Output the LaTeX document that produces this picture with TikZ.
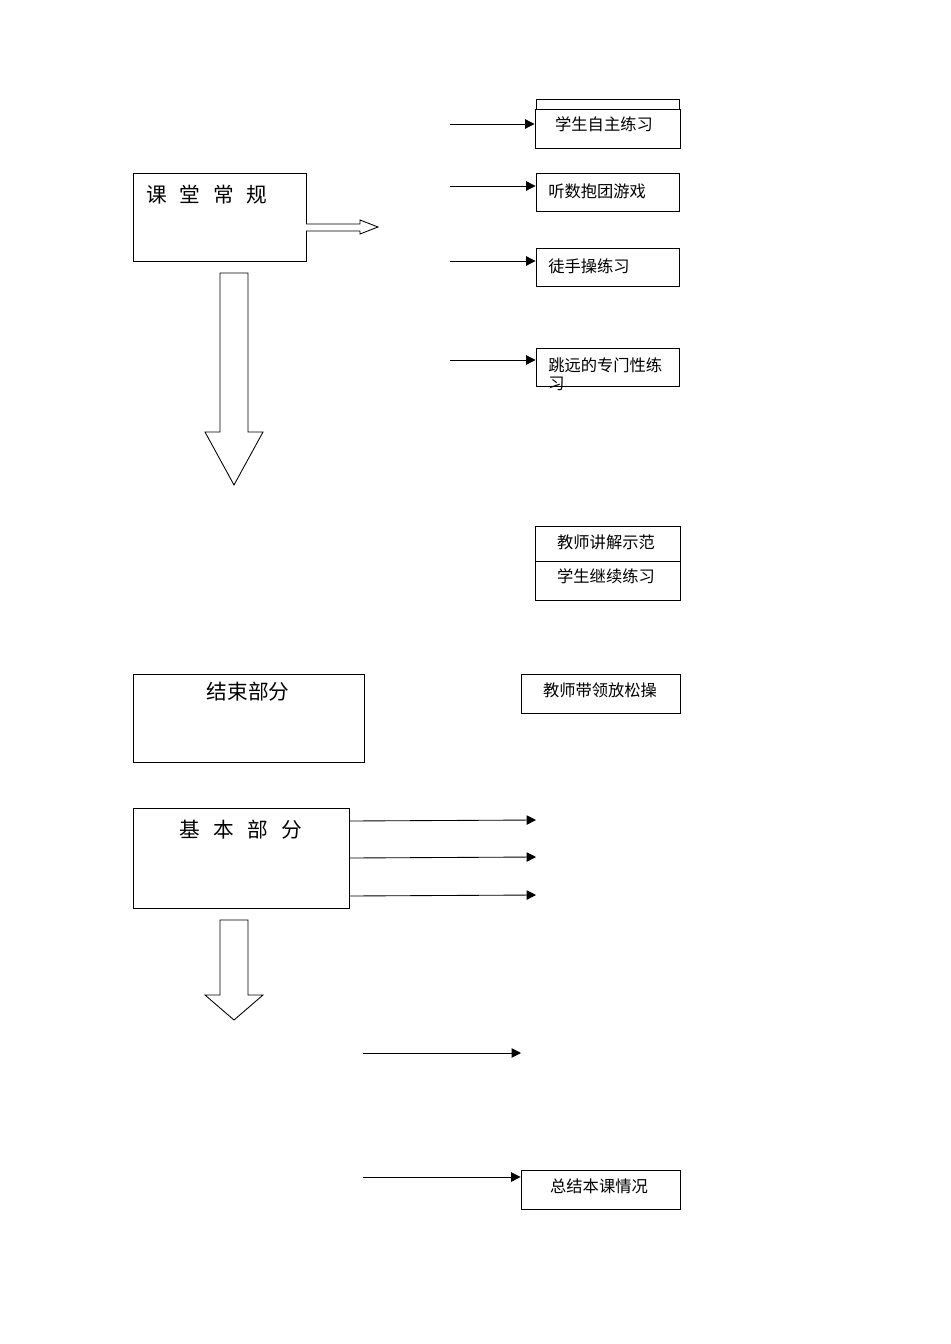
\documentclass[tikz,border=0pt]{standalone}
\usepackage{fontspec}
\setmainfont{Noto Sans CJK SC}
\usetikzlibrary{arrows.meta,fit}
\begin{document}
\begin{tikzpicture}[x=0.75pt,y=-0.75pt,
  box/.style={draw,line width=0.65pt,inner sep=0pt,fill=white},
  big/.style={font=\fontsize{15.5}{18}\selectfont,inner sep=0pt},
  small/.style={font=\fontsize{12.2}{13.5}\selectfont,inner sep=0pt},
  arr/.style={line width=0.65pt,-{Triangle[length=7pt,width=7pt]}},
  hollow/.style={draw,line width=0.65pt,fill=white,line join=miter}]
\useasboundingbox (0,0) rectangle (950,1344);

% ---- top right boxes
\node[box,fit={(536,99)(679,140)}] (back) {};
\node[box,fit={(535,109)(680,148)}] (b1) {};
\node[small] (t1) at (604,124) {学生自主练习};

\node[box,fit={(536,173)(679,211)}] (b2) {};
\node[small,anchor=west] (t2) at (548,191) {听数抱团游戏};

\node[box,fit={(536,248)(679,286)}] (b3) {};
\node[small,anchor=west] (t3) at (548,266) {徒手操练习};

\node[box,fit={(536,348)(679,386)}] (b4) {};
\node[small,anchor=north west,align=left] (t4) at (548,357) {跳远的专门性练\\习};

\coordinate (s1) at (450,124);
\coordinate (s2) at (450,186);
\coordinate (s3) at (450,261);
\coordinate (s4) at (450,360);
\draw[arr] (s1) -- (s1 -| b1.west);
\draw[arr] (s2) -- (s2 -| b2.west);
\draw[arr] (s3) -- (s3 -| b3.west);
\draw[arr] (s4) -- (s4 -| b4.west);

% ---- 课堂常规
\node[box,fit={(133,173)(306,261)}] (kt) {};
\node[big] (ktt) at (207,195) {课\hspace{9.5pt}堂\hspace{9.5pt}常\hspace{9.5pt}规};
\draw[hollow] (306,224) -- (360,224) -- (360,220) -- (378,227) -- (360,234) -- (360,231) -- (306,231);

% big down arrow
\draw[hollow] (220,273) -- (248,273) -- (248,432) -- (263,432) -- (234,485) -- (205,432) -- (220,432) -- cycle;

% ---- middle boxes
\node[box,fit={(535,526)(680,561)}] (b5) {};
\node[small] (t5) at (606,542) {教师讲解示范};
\node[box,fit={(535,561)(680,600)}] (b6) {};
\node[small] (t6) at (606,576) {学生继续练习};

% ---- 结束部分
\node[box,fit={(133,674)(364,762)}] (js) {};
\node[big] (jst) at (248,692) {结束部分};

\node[box,fit={(521,674)(680,713)}] (b7) {};
\node[small] (t7) at (600,690) {教师带领放松操};

% ---- 基本部分
\node[box,fit={(133,808)(349,908)}] (jb) {};
\node[big] (jbt) at (241,830) {基\hspace{10pt}本\hspace{10pt}部\hspace{10pt}分};
\coordinate (e1) at (536,820);
\coordinate (e2) at (536,857);
\coordinate (e3) at (536,895);
\draw[arr] (jb.east |- 0,821) -- (e1);
\draw[arr] (jb.east |- 0,858) -- (e2);
\draw[arr] (jb.east |- 0,896) -- (e3);

\draw[hollow] (220,920) -- (248,920) -- (248,995) -- (263,995) -- (234,1020) -- (205,995) -- (220,995) -- cycle;

% ---- bottom
\coordinate (s5) at (363,1053);
\coordinate (e5) at (521,1053);
\draw[arr] (s5) -- (e5);

\node[box,fit={(521,1170)(680,1209)}] (b8) {};
\node[small] (t8) at (599,1186) {总结本课情况};
\coordinate (s6) at (363,1177);
\draw[arr] (s6) -- (s6 -| b8.west);
\end{tikzpicture}
\end{document}
